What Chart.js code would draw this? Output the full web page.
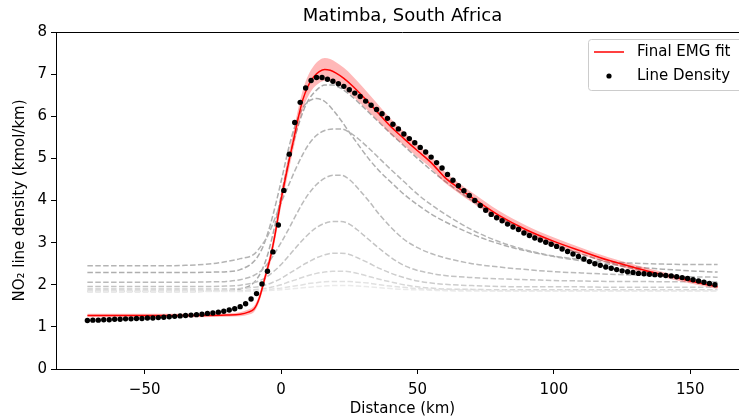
<!DOCTYPE html>
<html>
<head>
<meta charset="utf-8">
<script src="https://cdn.jsdelivr.net/npm/chart.js@4/dist/chart.umd.min.js"></script>
<style>
  html, body { margin: 0; padding: 0; overflow: hidden; background: #fff; }
  canvas { display: block; }
</style>
</head>
<body>
<canvas id="c" width="760" height="419"></canvas>
<script>
// observed line density (black dots)
const distKm = [-71,-69,-67,-65,-63,-61,-59,-57,-55,-53,-51,-49,-47,-45,-43,-41,-39,-37,-35,-33,
  -31,-29,-27,-25,-23,-21,-19,-17,-15,-13,-11,-9,-7,-5,-3,-1,1,3,5,7,
  9,11,13,15,17,19,21,23,25,27,29,31,33,35,37,39,41,43,45,47,
  49,51,53,55,57,59,61,63,65,67,69,71,73,75,77,79,81,83,85,87,
  89,91,93,95,97,99,101,103,105,107,109,111,113,115,117,119,121,123,125,127,
  129,131,133,135,137,139,141,143,145,147,149,151,153,155,157,159];
const lineDensity = [1.15,1.16,1.16,1.17,1.17,1.18,1.18,1.19,1.19,1.20,1.20,1.21,1.21,1.22,1.23,1.24,1.25,1.26,1.27,1.28,
  1.29,1.30,1.32,1.33,1.35,1.37,1.40,1.43,1.48,1.55,1.66,1.79,2.02,2.32,2.78,3.42,4.24,5.10,5.85,6.33,
  6.67,6.85,6.92,6.92,6.88,6.83,6.77,6.71,6.63,6.55,6.47,6.36,6.26,6.16,6.06,5.95,5.81,5.70,5.58,5.47,
  5.37,5.26,5.15,5.03,4.90,4.77,4.62,4.48,4.35,4.23,4.12,4.00,3.88,3.77,3.67,3.59,3.52,3.44,3.37,3.31,
  3.23,3.17,3.11,3.06,3.01,2.96,2.91,2.85,2.79,2.73,2.67,2.61,2.55,2.50,2.46,2.42,2.39,2.36,2.33,2.31,
  2.29,2.27,2.26,2.25,2.24,2.23,2.22,2.21,2.19,2.17,2.15,2.12,2.09,2.06,2.03,2.00];

// final EMG fit and its uncertainty band
const fitX = [-71,-50,-30,-20,-15,-12,-10,-9,-8,-7,-6,-5,-4,-3,-2,-1,0,1,2,3,
  4,5,6,8,10,12,14,16,18,20,23,26,30,35,40,45,50,55,60,65,
  70,80,90,100,110,120,130,140,150,160];
const fitY = [1.27,1.27,1.27,1.28,1.30,1.35,1.42,1.52,1.68,1.90,2.15,2.38,2.63,2.93,3.27,3.65,4.02,4.34,4.66,4.97,
  5.27,5.57,5.88,6.40,6.73,6.94,7.06,7.11,7.09,7.03,6.90,6.73,6.47,6.12,5.77,5.47,5.18,4.90,4.55,4.30,
  4.07,3.64,3.30,3.03,2.80,2.58,2.40,2.24,2.09,1.95];
const fitHi = [1.31,1.31,1.31,1.32,1.35,1.41,1.49,1.60,1.77,2.00,2.26,2.50,2.76,3.07,3.42,3.81,4.19,4.52,4.85,5.17,
  5.47,5.78,6.10,6.63,6.98,7.20,7.33,7.38,7.36,7.29,7.15,6.97,6.69,6.32,5.95,5.63,5.33,5.04,4.68,4.42,
  4.19,3.75,3.40,3.12,2.88,2.65,2.47,2.30,2.15,2.00];
const fitLo = [1.23,1.23,1.23,1.24,1.25,1.29,1.35,1.44,1.59,1.80,2.04,2.26,2.50,2.79,3.12,3.49,3.85,4.16,4.47,4.77,
  5.07,5.36,5.66,6.17,6.48,6.68,6.79,6.84,6.82,6.77,6.65,6.49,6.25,5.92,5.59,5.31,5.03,4.76,4.42,4.18,
  3.95,3.53,3.20,2.94,2.72,2.51,2.33,2.18,2.03,1.90];

// grey dashed intermediate fits
const compX = [-71,-50,-35,-25,-20,-15,-10,-7,-5,-3,0,3,5,8,10,13,16,19,22,25,
  28,32,36,40,45,50,55,60,70,80,90,100,110,120,130,140,150,160];
const comp1 = [1.84,1.84,1.84,1.85,1.86,1.90,2.05,2.35,2.70,3.20,4.10,5.00,5.50,6.10,6.38,6.62,6.74,6.74,6.66,6.52,
  6.35,6.10,5.85,5.60,5.30,5.00,4.72,4.46,4.00,3.60,3.26,2.97,2.73,2.53,2.37,2.24,2.13,2.04];
const comp2 = [2.29,2.29,2.29,2.30,2.31,2.36,2.55,2.85,3.20,3.65,4.45,5.30,5.75,6.20,6.35,6.42,6.35,6.15,5.90,5.62,
  5.35,5.00,4.70,4.45,4.15,3.90,3.68,3.50,3.20,2.97,2.80,2.67,2.57,2.49,2.42,2.37,2.33,2.30];
const comp3 = [2.45,2.45,2.46,2.50,2.55,2.62,2.72,2.95,3.15,3.45,3.95,4.40,4.70,5.10,5.32,5.55,5.66,5.70,5.70,5.62,
  5.48,5.25,5.00,4.75,4.45,4.15,3.90,3.68,3.30,3.02,2.82,2.68,2.60,2.54,2.51,2.49,2.48,2.48];
const comp4 = [2.06,2.06,2.06,2.07,2.08,2.12,2.22,2.35,2.50,2.68,3.00,3.35,3.60,3.95,4.15,4.38,4.53,4.60,4.60,4.50,
  4.30,4.00,3.67,3.38,3.08,2.88,2.74,2.64,2.50,2.42,2.36,2.31,2.28,2.25,2.23,2.21,2.19,2.18];
const comp5 = [1.96,1.96,1.96,1.96,1.97,1.99,2.05,2.12,2.20,2.30,2.48,2.70,2.85,3.07,3.20,3.36,3.46,3.50,3.50,3.44,
  3.30,3.08,2.86,2.66,2.46,2.34,2.27,2.22,2.17,2.14,2.12,2.10,2.09,2.08,2.08,2.07,2.07,2.07];
const comp6 = [1.90,1.90,1.90,1.90,1.90,1.91,1.94,1.97,2.01,2.06,2.15,2.27,2.35,2.47,2.54,2.64,2.71,2.75,2.75,2.72,
  2.64,2.52,2.39,2.28,2.17,2.09,2.04,2.01,1.98,1.96,1.95,1.95,1.95,1.94,1.94,1.94,1.94,1.94];
const comp7 = [1.86,1.86,1.86,1.86,1.86,1.86,1.88,1.90,1.92,1.95,2.00,2.07,2.11,2.18,2.22,2.27,2.30,2.32,2.32,2.31,
  2.27,2.20,2.13,2.07,2.00,1.95,1.92,1.90,1.89,1.88,1.88,1.88,1.88,1.88,1.88,1.88,1.88,1.88];
const comp8 = [1.85,1.85,1.85,1.85,1.85,1.85,1.86,1.87,1.88,1.90,1.92,1.95,1.97,2.00,2.03,2.05,2.07,2.08,2.08,2.08,
  2.06,2.04,2.00,1.97,1.94,1.91,1.89,1.88,1.87,1.86,1.86,1.86,1.86,1.86,1.86,1.86,1.86,1.86];
const comp9 = [1.84,1.84,1.84,1.84,1.84,1.84,1.85,1.85,1.86,1.87,1.88,1.90,1.91,1.93,1.94,1.96,1.97,1.98,1.98,1.98,
  1.97,1.95,1.93,1.91,1.89,1.88,1.87,1.86,1.85,1.85,1.85,1.85,1.85,1.85,1.85,1.85,1.85,1.85];
const comps = [comp1, comp2, comp3, comp4, comp5, comp6, comp7, comp8, comp9];
const compColors = ['#a9a9a9','#aeaeae','#b4b4b4','#bababa','#c3c3c3','#cdcdcd','#d7d7d7','#e1e1e1','#eaeaea'];

const xTicks = [-50, 0, 50, 100, 150];
const yTicks = [0, 1, 2, 3, 4, 5, 6, 7, 8];

const pairs = (xs, ys) => xs.map((x, i) => ({ x: x, y: ys[i] }));
const minus = v => String(v).replace('-', '\u2212');

Chart.defaults.font.family = 'DejaVu Sans';
Chart.defaults.font.size = 15;
Chart.defaults.color = '#000';

const datasets = comps.map((c, i) => ({
  label: '', data: pairs(compX, c), borderColor: compColors[i], borderWidth: 1.5,
  borderDash: [5.5, 2.4], pointRadius: 0, cubicInterpolationMode: 'monotone', fill: false, order: 20 - i
}));
datasets.push({ label: '', data: pairs(fitX, fitHi), borderWidth: 0, pointRadius: 0,
  cubicInterpolationMode: 'monotone', fill: '+1', backgroundColor: 'rgba(255,0,0,0.28)', order: 5 });
datasets.push({ label: '', data: pairs(fitX, fitLo), borderWidth: 0, pointRadius: 0,
  cubicInterpolationMode: 'monotone', fill: false, order: 5 });
datasets.push({ label: 'Final EMG fit', data: pairs(fitX, fitY), borderColor: '#ff0000', borderWidth: 1.5,
  pointRadius: 0, cubicInterpolationMode: 'monotone', fill: false, order: 2 });
datasets.push({ label: 'Line Density', data: pairs(distKm, lineDensity), showLine: false,
  pointRadius: 2.7, pointBackgroundColor: '#000', pointBorderWidth: 0, order: 1 });

// matplotlib-like frame, title and legend
const decor = {
  id: 'decor',
  afterDraw(chart) {
    const ctx = chart.ctx, a = chart.chartArea;
    ctx.save();
    ctx.strokeStyle = '#000'; ctx.lineWidth = 1;
    ctx.beginPath();
    ctx.moveTo(a.left, a.top + 0.5); ctx.lineTo(a.right, a.top + 0.5);
    ctx.moveTo(a.right - 0.5, a.top); ctx.lineTo(a.right - 0.5, a.bottom);
    ctx.stroke();

    ctx.fillStyle = '#000';
    ctx.font = '18px "DejaVu Sans"';
    ctx.textAlign = 'center'; ctx.textBaseline = 'middle';
    ctx.fillText('Matimba, South Africa', (a.left + a.right) / 2, 16);

    // legend box
    const bx = 588, by = 39, bw = 170, bh = 51;
    ctx.beginPath();
    ctx.roundRect(bx + 0.5, by + 0.5, bw, bh, 3);
    ctx.fillStyle = 'rgba(255,255,255,0.8)'; ctx.fill();
    ctx.strokeStyle = '#cccccc'; ctx.stroke();
    const fit = chart.data.datasets.find(d => d.label === 'Final EMG fit');
    const dots = chart.data.datasets.find(d => d.label === 'Line Density');
    ctx.strokeStyle = fit.borderColor; ctx.lineWidth = 1.5;
    ctx.beginPath(); ctx.moveTo(594, 52); ctx.lineTo(624, 52); ctx.stroke();
    ctx.fillStyle = '#000';
    ctx.beginPath(); ctx.arc(609, 76, 2.6, 0, Math.PI * 2); ctx.fill();
    ctx.font = '15px "DejaVu Sans"';
    ctx.textAlign = 'left';
    ctx.fillText(fit.label, 637, 52);
    ctx.fillText(dots.label, 637, 76);
    ctx.restore();
  }
};

new Chart(document.getElementById('c'), {
  type: 'line',
  data: { datasets: datasets },
  options: {
    responsive: false, animation: false, devicePixelRatio: 1,
    layout: { padding: { top: 32, right: 11, left: 0, bottom: 0 } },
    plugins: { legend: { display: false }, tooltip: { enabled: false } },
    scales: {
      x: {
        type: 'linear', min: -82.5, max: 171.5,
        afterBuildTicks: s => { s.ticks = xTicks.map(v => ({ value: v })); },
        afterFit: s => { s.height = 50; },
        grid: { drawOnChartArea: false, drawTicks: true, tickLength: 5, color: '#000', lineWidth: 1 },
        border: { display: true, color: '#000', width: 1 },
        ticks: { padding: 7, maxRotation: 0, callback: v => minus(v) },
        title: { display: true, text: 'Distance (km)', padding: { top: 0, bottom: 1 } }
      },
      y: {
        type: 'linear', min: 0, max: 8,
        afterBuildTicks: s => { s.ticks = yTicks.map(v => ({ value: v })); },
        afterFit: s => { s.width = 56; },
        grid: { drawOnChartArea: false, drawTicks: true, tickLength: 5, color: '#000', lineWidth: 1 },
        border: { display: true, color: '#000', width: 1 },
        ticks: { padding: 4, callback: v => minus(v) },
        title: { display: true, text: 'NO\u2082 line density (kmol/km)', padding: { top: 11, bottom: 0 } }
      }
    }
  },
  plugins: [decor]
});
</script>
</body>
</html>
